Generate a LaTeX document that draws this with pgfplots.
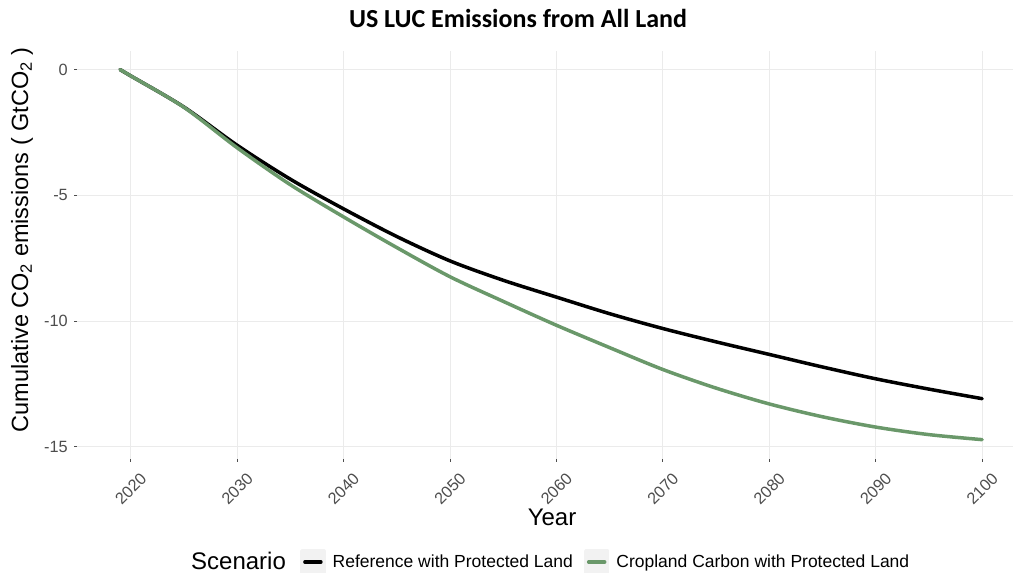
\documentclass[border=0pt]{standalone}
\usepackage{fontspec}
\setmainfont{Liberation Sans}
\newfontfamily\titlefont{Carlito}
\usepackage{pgfplots}
\pgfplotsset{compat=1.18}
\definecolor{gridgray}{HTML}{EBEBEB}
\definecolor{tickgray}{HTML}{4D4D4D}
\definecolor{cropgreen}{RGB}{106,152,106}
\definecolor{keybg}{HTML}{F2F2F2}
\begin{document}
\begin{tikzpicture}[x=1pt,y=1pt]
\useasboundingbox (0,0) rectangle (1013,573);
\begin{axis}[
  at={(77pt,114pt)}, anchor=south west,
  scale only axis, width=936pt, height=408pt,
  xmin=2014.95, xmax=2102.9,
  ymin=-15.49, ymax=0.74,
  xtick={2020,2030,...,2100},
  ytick={-15,-10,-5,0},
  axis line style={draw=none},
  grid=major,
  major grid style={gridgray, line width=0.9pt},
  tick align=outside,
  major tick length=3pt,
  major tick style={tickgray, line width=0.8pt},
  xtick pos=bottom, ytick pos=left,
  /pgf/number format/.cd, 1000 sep={}, assume math mode=true, /pgfplots/.cd,
  tick label style={font=\fontsize{16.3}{19}\selectfont, text=tickgray},
  xticklabel style={rotate=45, anchor=center, inner sep=0pt},
  xticklabel shift=27pt,
  yticklabel style={anchor=east, inner sep=0pt, xshift=-6pt},
  title={\titlefont\bfseries US LUC Emissions from All Land},
  title style={at={(axis description cs:0.4712,1.044)}, anchor=base, font=\fontsize{26}{30}\selectfont},
  xlabel={Year},
  xlabel style={at={(axis description cs:0.5075,-0.1618)}, anchor=base, font=\fontsize{24}{28}\selectfont},
  ylabel={Cumulative CO\textsubscript{2} emissions ( GtCO\textsubscript{2} )},
  ylabel style={at={(axis description cs:-0.0588,0.537)}, rotate=0, anchor=center, font=\fontsize{23.5}{28}\selectfont},
  legend columns=-1,
  legend style={at={(axis description cs:0.2382,-0.2525)}, anchor=west, draw=none, fill=none,
    inner sep=0pt, font=\fontsize{17.5}{20}\selectfont,
    /tikz/every odd column/.append style={column sep=5pt},
    /tikz/every even column/.append style={column sep=9pt}},
  legend image code/.code={
    \fill[keybg] (0pt,-11pt) rectangle (22pt,11pt);
    \draw[#1] (3pt,0pt) -- (19pt,0pt);
  },
]
\addplot[black, line width=3.5pt, line join=round, line cap=round, smooth, tension=0.5] coordinates {
(2019,0) (2020,-0.25) (2025,-1.49) (2030,-3.01) (2035,-4.36) (2040,-5.54)
(2045,-6.64) (2050,-7.61) (2055,-8.38) (2060,-9.05) (2065,-9.71) (2070,-10.30)
(2075,-10.83) (2080,-11.33) (2085,-11.83) (2090,-12.30) (2095,-12.71) (2100,-13.09)
};
\addlegendentry{Reference with Protected Land}
\addplot[cropgreen, line width=3.5pt, line join=round, line cap=round, smooth, tension=0.5] coordinates {
(2019,0) (2020,-0.25) (2025,-1.50) (2030,-3.11) (2035,-4.58) (2040,-5.86)
(2045,-7.08) (2050,-8.24) (2055,-9.22) (2060,-10.17) (2065,-11.06) (2070,-11.93)
(2075,-12.67) (2080,-13.30) (2085,-13.81) (2090,-14.22) (2095,-14.52) (2100,-14.72)
};
\addlegendentry{Cropland Carbon with Protected Land}
\end{axis}
\node[anchor=base west, inner sep=0pt, font=\fontsize{24}{28}\selectfont] at (191,3) {Scenario};
\end{tikzpicture}
\end{document}
